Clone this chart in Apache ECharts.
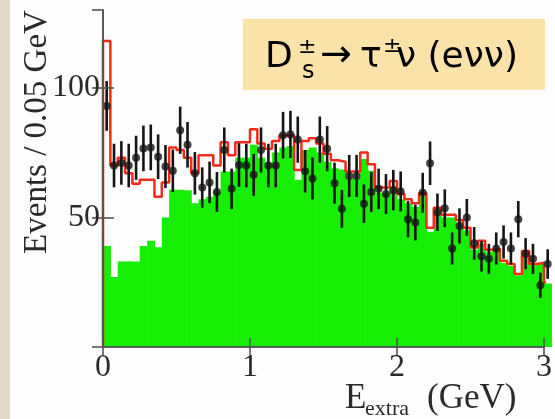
<!DOCTYPE html>
<html>
<head>
<meta charset="utf-8">
<script src="https://cdn.jsdelivr.net/npm/echarts/dist/echarts.min.js"></script>
<style>
  html, body { margin: 0; padding: 0; background: #fdfdfd; }
  #chart { width: 555px; height: 419px; }
</style>
</head>
<body>
<div id="chart"></div>
<script>
// E_extra spectrum, 0.05 GeV bins starting at 0 (last bin spills past 3 GeV)
const binWidth = 0.05;

// background MC (green, filled)
const background = [
  39, 27, 33, 33, 33, 39, 41, 38.5, 50, 60.7,
  60.7, 60.5, 55.5, 57, 58, 60, 67.7, 67.7, 73, 73,
  78, 73, 71, 75, 77, 77.5, 64.5, 76, 77, 75,
  71.5, 69, 68.5, 65, 65, 72.5, 68, 59.5, 59.5, 62,
  57, 55.5, 54, 58, 44.5, 52.5, 50, 50, 48, 45,
  37.5, 40, 36.7, 37, 32.5, 31.3, 27.6, 36.3, 31.5, 32, 24.5
];

// signal + background (red outline)
const total = [
  118, 70, 73, 67, 63, 64.5, 64.5, 58, 63.5, 77,
  76, 73, 67, 74, 74, 70, 79, 74, 79, 79,
  84, 78.5, 76.5, 79.5, 81.7, 81.7, 68.3, 79.5, 80.5, 78.5,
  74.5, 72, 71.5, 67.7, 67.7, 75, 70.5, 61.5, 61.5, 64,
  59, 57, 55.5, 59.4, 46, 53.7, 51, 51, 49, 46,
  38.4, 41, 37.5, 37.8, 33.3, 32, 28.2, 37, 32, 32.5, 25
];

// data points and their errors
const dataCounts = [
  93, 70, 71, 70, 73, 76.6, 77, 73.4, 69.6, 68,
  83.6, 78, 67, 61.5, 63.5, 59.8, 76, 61, 70.2, 70,
  66.4, 76, 70, 70, 81.7, 82, 80, 67.8, 65, 80,
  76.5, 63.2, 53.3, 66, 66, 55.3, 59.8, 61, 59, 60.5,
  60, 49.3, 48, 59.5, 70.9, 52, 53.5, 38, 46.7, 50,
  40, 35, 34, 38, 40.5, 38, 49.3, 36, 34, 23.8, 32
];
const dataErrors = [
  9.6, 8.4, 8.4, 8.4, 8.5, 8.8, 8.8, 8.6, 8.3, 8.2,
  9.1, 8.8, 8.2, 7.8, 8.0, 7.7, 8.7, 7.8, 8.4, 8.4,
  8.1, 8.7, 8.4, 8.4, 9.0, 9.1, 8.9, 8.2, 8.1, 8.9,
  8.7, 7.9, 7.3, 8.1, 8.1, 7.4, 7.7, 7.8, 7.7, 7.8,
  7.7, 7.0, 6.9, 7.7, 8.4, 7.2, 7.3, 6.2, 6.8, 7.1,
  6.3, 5.9, 5.8, 6.2, 6.4, 6.2, 7.0, 6.0, 5.8, 4.9, 5.7
];

const xRange = [0, 3];
const yRange = [0, 130];

const green = "#17ee05";
const red = "#f52a1a";
const ink = "#151515";
const frame = "#555";
const serif = '"Liberation Serif", "DejaVu Serif", serif';
const comic = '"DejaVu Sans", sans-serif';

const bgBins = background.map((v, i) => [i * binWidth, (i + 1) * binWidth, v]);
const totalLine = [[0, 0]].concat(
  total.map((v, i) => [i * binWidth, v]),
  [[total.length * binWidth, total[total.length - 1]]]
);
const points = dataCounts.map((v, i) => [(i + 0.5) * binWidth, v]);
const errBars = dataCounts.map((v, i) => [(i + 0.5) * binWidth, v - dataErrors[i], v + dataErrors[i]]);

const myChart = echarts.init(document.getElementById("chart"));

const axisLine = { show: true, lineStyle: { color: frame, width: 1.6 } };
const axisTick = { show: true, inside: true, length: 9, lineStyle: { color: frame, width: 1.6 } };
const tickFont = { fontFamily: serif, fontSize: 32, color: "#2a2a2a" };

const option = {
  animation: false,
  backgroundColor: "#fdfdfd",
  grid: { left: 103, right: 8, top: 10, bottom: 72, show: false },
  xAxis: [
    {
      type: "value", position: "bottom", min: xRange[0], max: xRange[1], interval: 1,
      axisLine, axisTick, splitLine: { show: false }, z: 10,
      axisLabel: Object.assign({ margin: 5 }, tickFont),
    },
    {
      type: "value", position: "top", min: xRange[0], max: xRange[1], interval: 1,
      axisLine, axisTick, splitLine: { show: false }, axisLabel: { show: false }, z: 10,
    },
  ],
  yAxis: [
    {
      type: "value", position: "left", min: yRange[0], max: yRange[1], interval: 50,
      axisLine, axisTick: Object.assign({}, axisTick, { length: 11 }), splitLine: { show: false }, z: 10,
      axisLabel: Object.assign({ margin: 3, showMinLabel: false, showMaxLabel: false }, tickFont),
    },
    {
      type: "value", position: "right", min: yRange[0], max: yRange[1], interval: 50,
      axisLine, axisTick: Object.assign({}, axisTick, { length: 11 }), splitLine: { show: false },
      axisLabel: { show: false }, z: 10,
    },
  ],
  graphic: [
    { type: "rect", left: 0, top: 0, shape: { width: 10, height: 419 }, style: { fill: "#e3d9ca" }, z: 0 },
    // title box
    { type: "rect", shape: { x: 243, y: 19, width: 302, height: 71 }, style: { fill: "#fae2a8" }, z: 100 },
    { type: "text", x: 265, y: 58, z: 101, style: { text: "D", font: "36px " + comic, fill: "#000", verticalAlign: "middle" } },
    { type: "text", x: 298, y: 47, z: 101, style: { text: "±", font: "22px " + comic, fill: "#000", verticalAlign: "middle" } },
    { type: "text", x: 302, y: 72, z: 101, style: { text: "s", font: "24px " + comic, fill: "#000", verticalAlign: "middle" } },
    { type: "text", x: 320, y: 56, z: 101, style: { text: "→", font: "38px " + comic, fill: "#000", verticalAlign: "middle" } },
    { type: "text", x: 360, y: 58, z: 101, style: { text: "τ", font: "36px " + comic, fill: "#000", verticalAlign: "middle" } },
    { type: "text", x: 383, y: 46, z: 101, style: { text: "±", font: "22px " + comic, fill: "#000", verticalAlign: "middle" } },
    { type: "text", x: 396, y: 58, z: 101, style: { text: "ν (eνν)", font: "36px " + comic, fill: "#000", verticalAlign: "middle" } },
    // axis titles
    {
      type: "text", x: 37, y: 132, rotation: Math.PI / 2, z: 50,
      style: { text: "Events / 0.05 GeV", font: "33px " + serif, fill: "#2a2a2a", align: "center", verticalAlign: "middle" },
    },
    { type: "text", x: 345, y: 399, z: 50, style: { text: "E", font: "35px " + serif, fill: "#2a2a2a", verticalAlign: "middle" } },
    { type: "text", x: 365, y: 409, z: 50, style: { text: "extra", font: "22px " + serif, fill: "#2a2a2a", verticalAlign: "middle" } },
    { type: "text", x: 427, y: 399, z: 50, style: { text: "(GeV)", font: "35px " + serif, fill: "#2a2a2a", verticalAlign: "middle" } },
  ],
  series: [
    {
      name: "background",
      type: "custom",
      clip: false,
      z: 1,
      data: bgBins,
      renderItem: (params, api) => {
        const p0 = api.coord([api.value(0), api.value(2)]);
        const p1 = api.coord([api.value(1), 0]);
        return {
          type: "rect",
          shape: { x: p0[0], y: p0[1], width: p1[0] - p0[0] + 0.6, height: p1[1] - p0[1] },
          style: { fill: green },
        };
      },
    },
    {
      name: "total",
      type: "line",
      step: "end",
      clip: false,
      z: 3,
      symbol: "none",
      data: totalLine,
      lineStyle: { color: red, width: 2.5 },
    },
    {
      name: "errors",
      type: "custom",
      clip: false,
      z: 4,
      data: errBars,
      renderItem: (params, api) => {
        const lo = api.coord([api.value(0), api.value(1)]);
        const hi = api.coord([api.value(0), api.value(2)]);
        return {
          type: "line",
          shape: { x1: lo[0], y1: lo[1], x2: hi[0], y2: hi[1] },
          style: { stroke: ink, lineWidth: 2.6 },
        };
      },
    },
    {
      name: "data",
      type: "scatter",
      clip: false,
      z: 5,
      symbol: "circle",
      symbolSize: 8,
      data: points,
      itemStyle: { color: ink },
    },
  ],
};
myChart.setOption(option);
</script>
</body>
</html>
